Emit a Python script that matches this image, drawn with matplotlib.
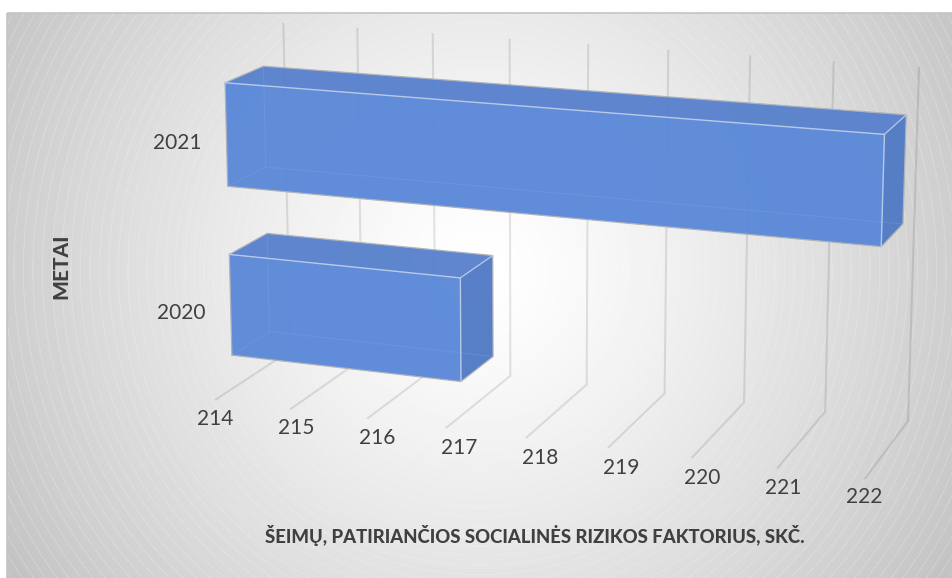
import numpy as np
import matplotlib
matplotlib.use("Agg")
import matplotlib.pyplot as plt
from matplotlib.patches import Polygon, Rectangle

# ---- data ----
categories = ["2020", "2021"]
values = [217, 222]
ticks = [214, 215, 216, 217, 218, 219, 220, 221, 222]
x_title = "ŠEIMŲ, PATIRIANČIOS SOCIALINĖS RIZIKOS FAKTORIUS, SKČ."
y_title = "METAI"

AXIS_MIN, AXIS_MAX = 214, 222
BAR_H = 0.30
D0, D1 = 0.22, 0.72

# ---- calibration of the 3D view: (value, height, depth) -> pixel ----
wall_top = [(214, 282, 25), (215, 356, 30), (216, 432, 35), (217, 509, 40), (218, 588, 45),
            (219, 668, 51), (220, 750, 57), (221, 833, 63), (222, 919, 69)]
wall_bot = [(214, 288, 350), (215, 361, 358), (216, 436, 367), (217, 511, 376), (218, 587, 385),
            (219, 665, 394), (220, 744, 403), (221, 825, 412), (222, 908, 421)]
floor_fr = [(214, 215, 400), (215, 290, 410), (216, 367, 419), (217, 446, 428), (218, 526, 438),
            (219, 608, 448), (220, 691, 458), (221, 777, 468), (222, 863, 478)]
bar_pts = [(214, .9, D0, 225, 82), (214, .6, D0, 228, 187), (222, .9, D0, 885, 133), (222, .6, D0, 882, 246),
           (214, .9, D1, 264, 65), (222, .9, D1, 907, 114), (222, .6, D1, 904, 223),
           (214, .4, D0, 230, 254), (214, .1, D0, 234, 355), (217, .4, D0, 462, 277), (217, .1, D0, 463, 381),
           (214, .4, D1, 268, 233), (217, .4, D1, 495, 254), (217, .1, D1, 495, 355)]
anchors = ([(v, 1, 1, x, y) for v, x, y in wall_top] + [(v, 0, 1, x, y) for v, x, y in wall_bot]
           + [(v, 0, 0, x, y) for v, x, y in floor_fr] + bar_pts)


def fit_camera(pts):
    rows = []
    for v, h, d, x, y in pts:
        P = [(v - AXIS_MIN) / (AXIS_MAX - AXIS_MIN), h, d, 1.0]
        xn, yn = x / 1000, y / 1000
        rows.append(P + [0, 0, 0, 0] + [-xn * p for p in P])
        rows.append([0, 0, 0, 0] + P + [-yn * p for p in P])
    return np.linalg.svd(np.array(rows))[2][-1].reshape(3, 4)


CAM = fit_camera(anchors)


def pr(v, h, d):
    w = CAM @ np.array([(v - AXIS_MIN) / (AXIS_MAX - AXIS_MIN), h, d, 1.0])
    return (1000 * w[0] / w[2], 1000 * w[1] / w[2])


# ---- figure ----
W, H = 953, 578
fig = plt.figure(figsize=(W / 100, H / 100), dpi=100, facecolor="white")
ax = fig.add_axes([0, 0, 1, 1])
ax.set_xlim(0, W)
ax.set_ylim(H, 0)
ax.axis("off")

# background radial gradient with faint banding rings
L, T = 7, 13
yy, xx = np.mgrid[T:H, L:W]
r = np.hypot(xx + 0.5 - 480, yy + 0.5 - 270)
gray = 255 - 65 * (r / 590) ** 1.3
rings = (r / 9.5) % 1 < 0.12
gray = gray + rings * np.clip(r / 500, 0, 1) ** 2 * 9
gray = np.clip(gray, 0, 255) / 255
ax.imshow(gray, cmap="gray", vmin=0, vmax=1, extent=(L, W, H, T), aspect="auto",
          interpolation="bilinear", zorder=0)
ax.set_xlim(0, W)
ax.set_ylim(H, 0)
ax.add_patch(Rectangle((L, T), W - L + 5, H - T + 5, fill=False, ec="#c4c4c4", lw=1.2, zorder=1))

# gridlines on wall and floor
for t in ticks:
    pts = [pr(t, 1, 1), pr(t, 0, 1), pr(t, 0, 0)]
    ax.plot(*zip(*pts), color="black", alpha=0.10, lw=1.5, zorder=2, solid_joinstyle="miter")

# bars
EDGE_OUT = "#aeb2ba"
EDGE_IN = "#b8c9e8"
for i, (cat, val) in enumerate(zip(categories, values)):
    hc = (i + 0.5) / len(categories)
    h0, h1 = hc - BAR_H / 2, hc + BAR_H / 2
    z = 3 + i
    a = pr(AXIS_MIN, h1, D0); b = pr(val, h1, D0); c = pr(val, h0, D0); e = pr(AXIS_MIN, h0, D0)
    a2 = pr(AXIS_MIN, h1, D1); b2 = pr(val, h1, D1); c2 = pr(val, h0, D1); e2 = pr(AXIS_MIN, h0, D1)
    ax.add_patch(Polygon([a, b, b2, a2], fc="#5881cc", ec="none", alpha=0.96, zorder=z))
    ax.add_patch(Polygon([b, c, c2, b2], fc="#527bc5", ec="none", alpha=0.97, zorder=z))
    ax.add_patch(Polygon([a, b, c, e], fc="#5a88d8", ec="none", alpha=0.96, zorder=z))
    # hidden edges shining through
    ax.plot(*zip(a2, e2, c2), color="#7ea3e0", lw=0.8, alpha=0.35, zorder=z + 0.1)
    ax.plot(*zip(e, e2), color="#7ea3e0", lw=0.8, alpha=0.35, zorder=z + 0.1)
    # outer silhouette
    ax.plot(*zip(a, a2, b2, c2, c, e, a), color=EDGE_OUT, lw=0.9, zorder=z + 0.2)
    # inner light edges
    ax.plot(*zip(a, b, c), color=EDGE_IN, lw=1.0, zorder=z + 0.3)
    ax.plot(*zip(b, b2), color=EDGE_IN, lw=0.9, zorder=z + 0.3)

# tick labels: evenly spaced along the front of the floor
TXT = "#404040"
FONT = "Lato"
x0, y0 = pr(ticks[0], 0, 0)
x1, y1 = pr(ticks[-1], 0, 0)
for t in ticks:
    f = (t - ticks[0]) / (ticks[-1] - ticks[0])
    ax.text(x0 + f * (x1 - x0) - 0.5, y0 + f * (y1 - y0) + 19, str(t), ha="center", va="center",
            fontsize=15, color=TXT, family=FONT, zorder=10)
for i, cat in enumerate(categories):
    hc = (i + 0.5) / len(categories)
    x, y = pr(AXIS_MIN, hc, D0)
    ax.text(x - 25, y + 8, cat, ha="right", va="center", fontsize=15, color=TXT, family=FONT, zorder=10)

# axis titles
ax.text(535, 536, x_title, ha="center", va="center", fontsize=13.3, fontweight=900,
        color=TXT, family=FONT, zorder=10)
ax.text(61, 266, y_title, ha="center", va="center", rotation=90, fontsize=15, fontweight=900,
        color=TXT, family=FONT, zorder=10)

fig.savefig("out.png", dpi=100, facecolor="white")
